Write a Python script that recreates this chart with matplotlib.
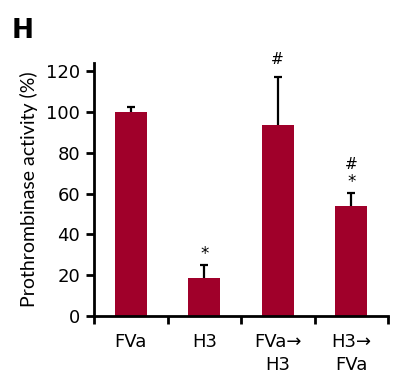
import matplotlib.pyplot as plt
import numpy as np

plt.rcParams['font.family'] = ['DejaVu Sans']

groups = ['FVa', 'H3', 'FVa→\nH3', 'H3→\nFVa']
activity = [100, 18.6, 93.6, 54]
err_up = [2.5, 6.5, 23.5, 6.3]
stars = [False, True, False, True]
hashes = [False, False, True, True]

fig = plt.figure(figsize=(3.98, 3.82), dpi=100)
ax = fig.add_axes([94 / 398, 66 / 382, 294 / 398, 253 / 382])

x = np.arange(len(groups))
tops = np.array(activity) + np.array(err_up)
ax.bar(x, activity, width=0.44, color='#A0002A', zorder=2)
ax.vlines(x, activity, tops, color='black', linewidth=1.6, zorder=1)
ax.hlines(tops, x - 0.055, x + 0.055, color='black', linewidth=1.6, zorder=1)

for xi, t, s, h in zip(x, tops, stars, hashes):
    if s:
        ax.text(xi, t + 5.5, '*', ha='center', va='center', fontsize=12)
    if h:
        ax.text(xi, t + (14 if s else 8.5), '#', ha='center', va='center',
                fontsize=11)

ax.set_xlim(-0.5, 3.5)
ax.set_ylim(0, 124)
ax.set_yticks(range(0, 121, 20))
ax.set_xticks(x)
ax.set_xticklabels(groups, fontsize=13, linespacing=1.35)
ax.set_xticks(np.arange(-0.5, 3.6, 1), minor=True)
ax.tick_params(axis='x', which='major', length=0, pad=12)
ax.tick_params(axis='x', which='minor', length=6, width=2, direction='out')
ax.tick_params(axis='y', length=6, width=2, labelsize=13, pad=4)

for s in ['top', 'right']:
    ax.spines[s].set_visible(False)
for s in ['left', 'bottom']:
    ax.spines[s].set_linewidth(2)

ax.set_ylabel('Prothrombinase activity (%)', fontsize=14, family='Lato',
              labelpad=6)
fig.text(12 / 398, 1 - 38 / 382, 'H', fontsize=19, fontweight='bold')

fig.savefig('out.png', dpi=100)
